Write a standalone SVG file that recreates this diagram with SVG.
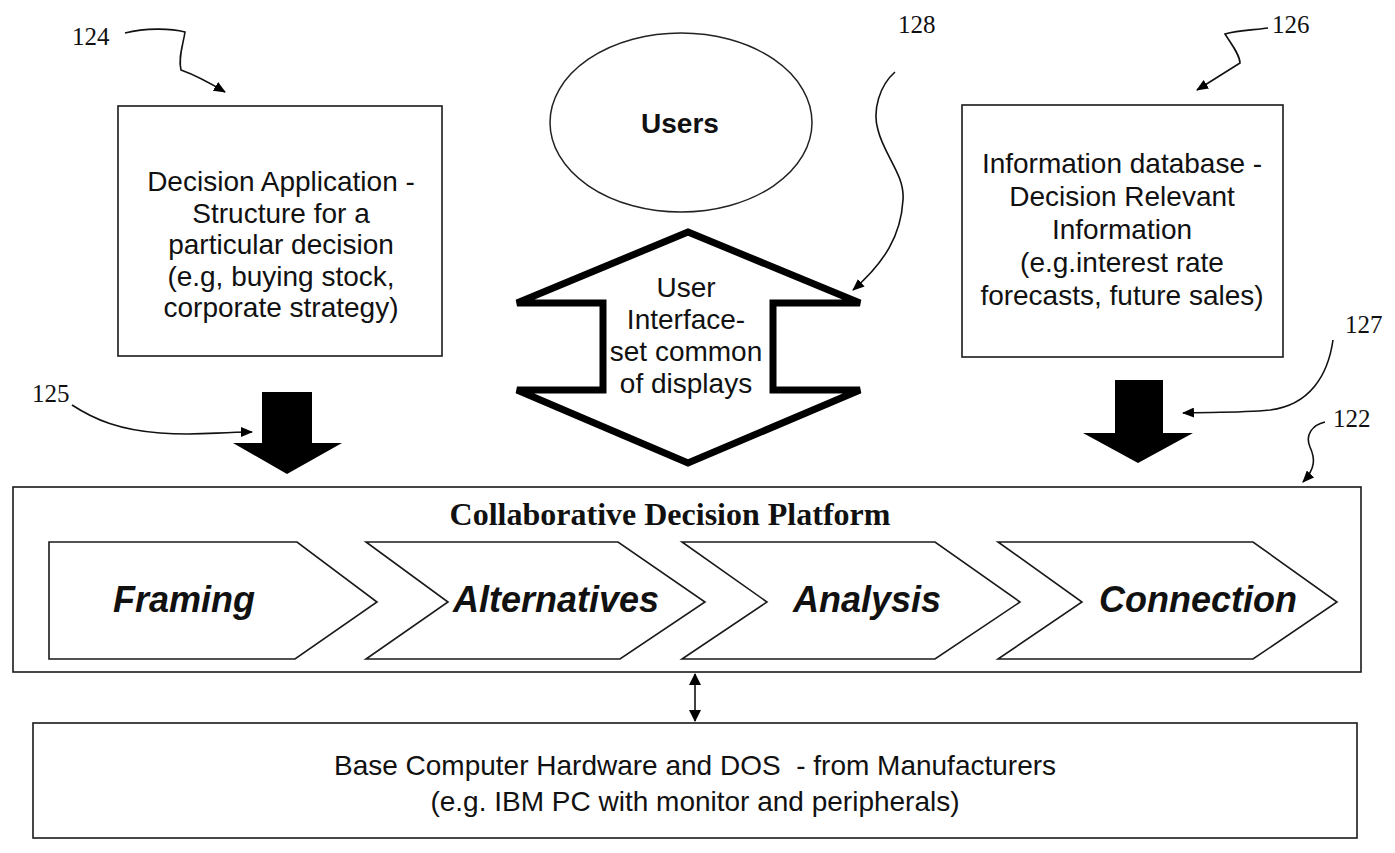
<svg xmlns="http://www.w3.org/2000/svg" width="1395" height="853" viewBox="0 0 1395 853">
<style>
.bx{fill:#fff;stroke:#1a1a1a;stroke-width:1.6}
.t{font-family:"Liberation Sans",Arial,sans-serif;font-size:28px;fill:#111;text-anchor:middle}
.ub{font-family:"Liberation Sans",Arial,sans-serif;font-size:28px;font-weight:bold;fill:#111;text-anchor:middle}
.num{font-family:"Liberation Serif","Times New Roman",serif;font-size:25px;fill:#111}
.title{font-family:"Liberation Serif","Times New Roman",serif;font-size:32px;font-weight:bold;fill:#111;text-anchor:middle}
.step{font-family:"Liberation Sans",Arial,sans-serif;font-size:36px;font-weight:bold;font-style:italic;fill:#111;text-anchor:middle}
.lead{fill:none;stroke:#111;stroke-width:1.6;marker-end:url(#ah)}
.big{fill:#000;stroke:none}
</style>
<defs>
<marker id="ah" viewBox="0 0 12 10" refX="11" refY="5" markerWidth="12" markerHeight="10" markerUnits="userSpaceOnUse" orient="auto">
<path d="M0,0 L12,5 L0,10 Z" fill="#000"/>
</marker>
<marker id="sa" viewBox="0 0 12 14" refX="11" refY="7" markerWidth="12" markerHeight="14" markerUnits="userSpaceOnUse" orient="auto-start-reverse">
<path d="M0,1 L12,7 L0,13 Z" fill="#000"/>
</marker>
</defs>
<rect width="1395" height="853" fill="#fff"/>

<g id="decision-application">
<rect class="bx" x="118" y="106" width="324" height="250"/>
<text class="t" x="281" y="191">Decision Application -</text>
<text class="t" x="281" y="222.5">Structure for a</text>
<text class="t" x="281" y="254">particular decision</text>
<text class="t" x="281" y="285.5">(e.g, buying stock,</text>
<text class="t" x="281" y="317">corporate strategy)</text>
</g>

<g id="users">
<ellipse cx="681" cy="122.5" rx="131" ry="89.5" fill="#fff" stroke="#222" stroke-width="1.5"/>
<text class="ub" x="680" y="133">Users</text>
</g>

<g id="user-interface">
<polygon points="688,232 860,303 773,303 773,390 860,390 688,463 517,390 603,390 603,303 517,303" fill="#fff" stroke="#000" stroke-width="7" stroke-linejoin="miter"/>
<text class="t" x="686" y="297">User</text>
<text class="t" x="686" y="329">Interface-</text>
<text class="t" x="686" y="361">set common</text>
<text class="t" x="686" y="393">of displays</text>
</g>

<g id="information-database">
<rect class="bx" x="962" y="105" width="321" height="252"/>
<text class="t" x="1122" y="173">Information database -</text>
<text class="t" x="1122" y="206">Decision Relevant</text>
<text class="t" x="1122" y="239">Information</text>
<text class="t" x="1122" y="272">(e.g.interest rate</text>
<text class="t" x="1122" y="305">forecasts, future sales)</text>
</g>

<g id="platform">
<rect class="bx" x="13" y="487" width="1348" height="185"/>
<text class="title" x="670" y="525">Collaborative Decision Platform</text>
</g>

<g id="framing">
<path class="bx" d="M49,542 L297,542 L377,602 L295,659 L49,659 Z"/>
<text class="step" x="184" y="612">Framing</text>
</g>
<g id="alternatives">
<path class="bx" d="M366,542 L618,542 L705,602 L620,659 L366,659 L448,602 Z"/>
<text class="step" x="556" y="612">Alternatives</text>
</g>
<g id="analysis">
<path class="bx" d="M682,542 L935,542 L1020,602 L935,659 L682,659 L767,602 Z"/>
<text class="step" x="867" y="612">Analysis</text>
</g>
<g id="connection">
<path class="bx" d="M998,542 L1253,542 L1337,602 L1253,659 L998,659 L1082,602 Z"/>
<text class="step" x="1198" y="612">Connection</text>
</g>

<g id="base-hardware">
<rect class="bx" x="33" y="723" width="1324" height="115"/>
<text class="t" x="695" y="775" xml:space="preserve">Base Computer Hardware and DOS  - from Manufacturers</text>
<text class="t" x="695" y="811">(e.g. IBM PC with monitor and peripherals)</text>
</g>

<g id="labels">
<text class="num" x="72" y="45">124</text>
<text class="num" x="32" y="402">125</text>
<text class="num" x="898" y="33">128</text>
<text class="num" x="1272" y="33">126</text>
<text class="num" x="1345" y="333">127</text>
<text class="num" x="1333" y="427">122</text>
</g>

<g id="connectors">
<polygon class="big" points="262,392 312,392 312,443 342,443 287,474 233,443 262,443"/>
<polygon class="big" points="1115,380 1163,380 1163,433 1193,433 1138,463 1083,433 1115,433"/>
<line x1="695" y1="674" x2="695" y2="721" stroke="#111" stroke-width="1.6" marker-start="url(#sa)" marker-end="url(#sa)"/>
<path class="lead" d="M125,33 C145,28 170,28 185,32 C183,45 178,58 181,70 C195,75 210,83 225,92"/>
<path class="lead" d="M72,405 C95,420 120,430 160,433 S215,432 252,432"/>
<path class="lead" d="M895,72 C880,85 872,110 878,130 C884,155 905,175 903,200 C901,235 885,262 853,290"/>
<path class="lead" d="M1268,28 C1255,30 1238,30 1225,34 C1232,45 1240,55 1240,63 L1197,90"/>
<path class="lead" d="M1333,340 C1328,375 1310,405 1270,410 C1240,413 1210,412 1183,413"/>
<path class="lead" d="M1325,422 C1312,425 1305,435 1310,447 C1315,458 1316,468 1303,482"/>
</g>
</svg>
